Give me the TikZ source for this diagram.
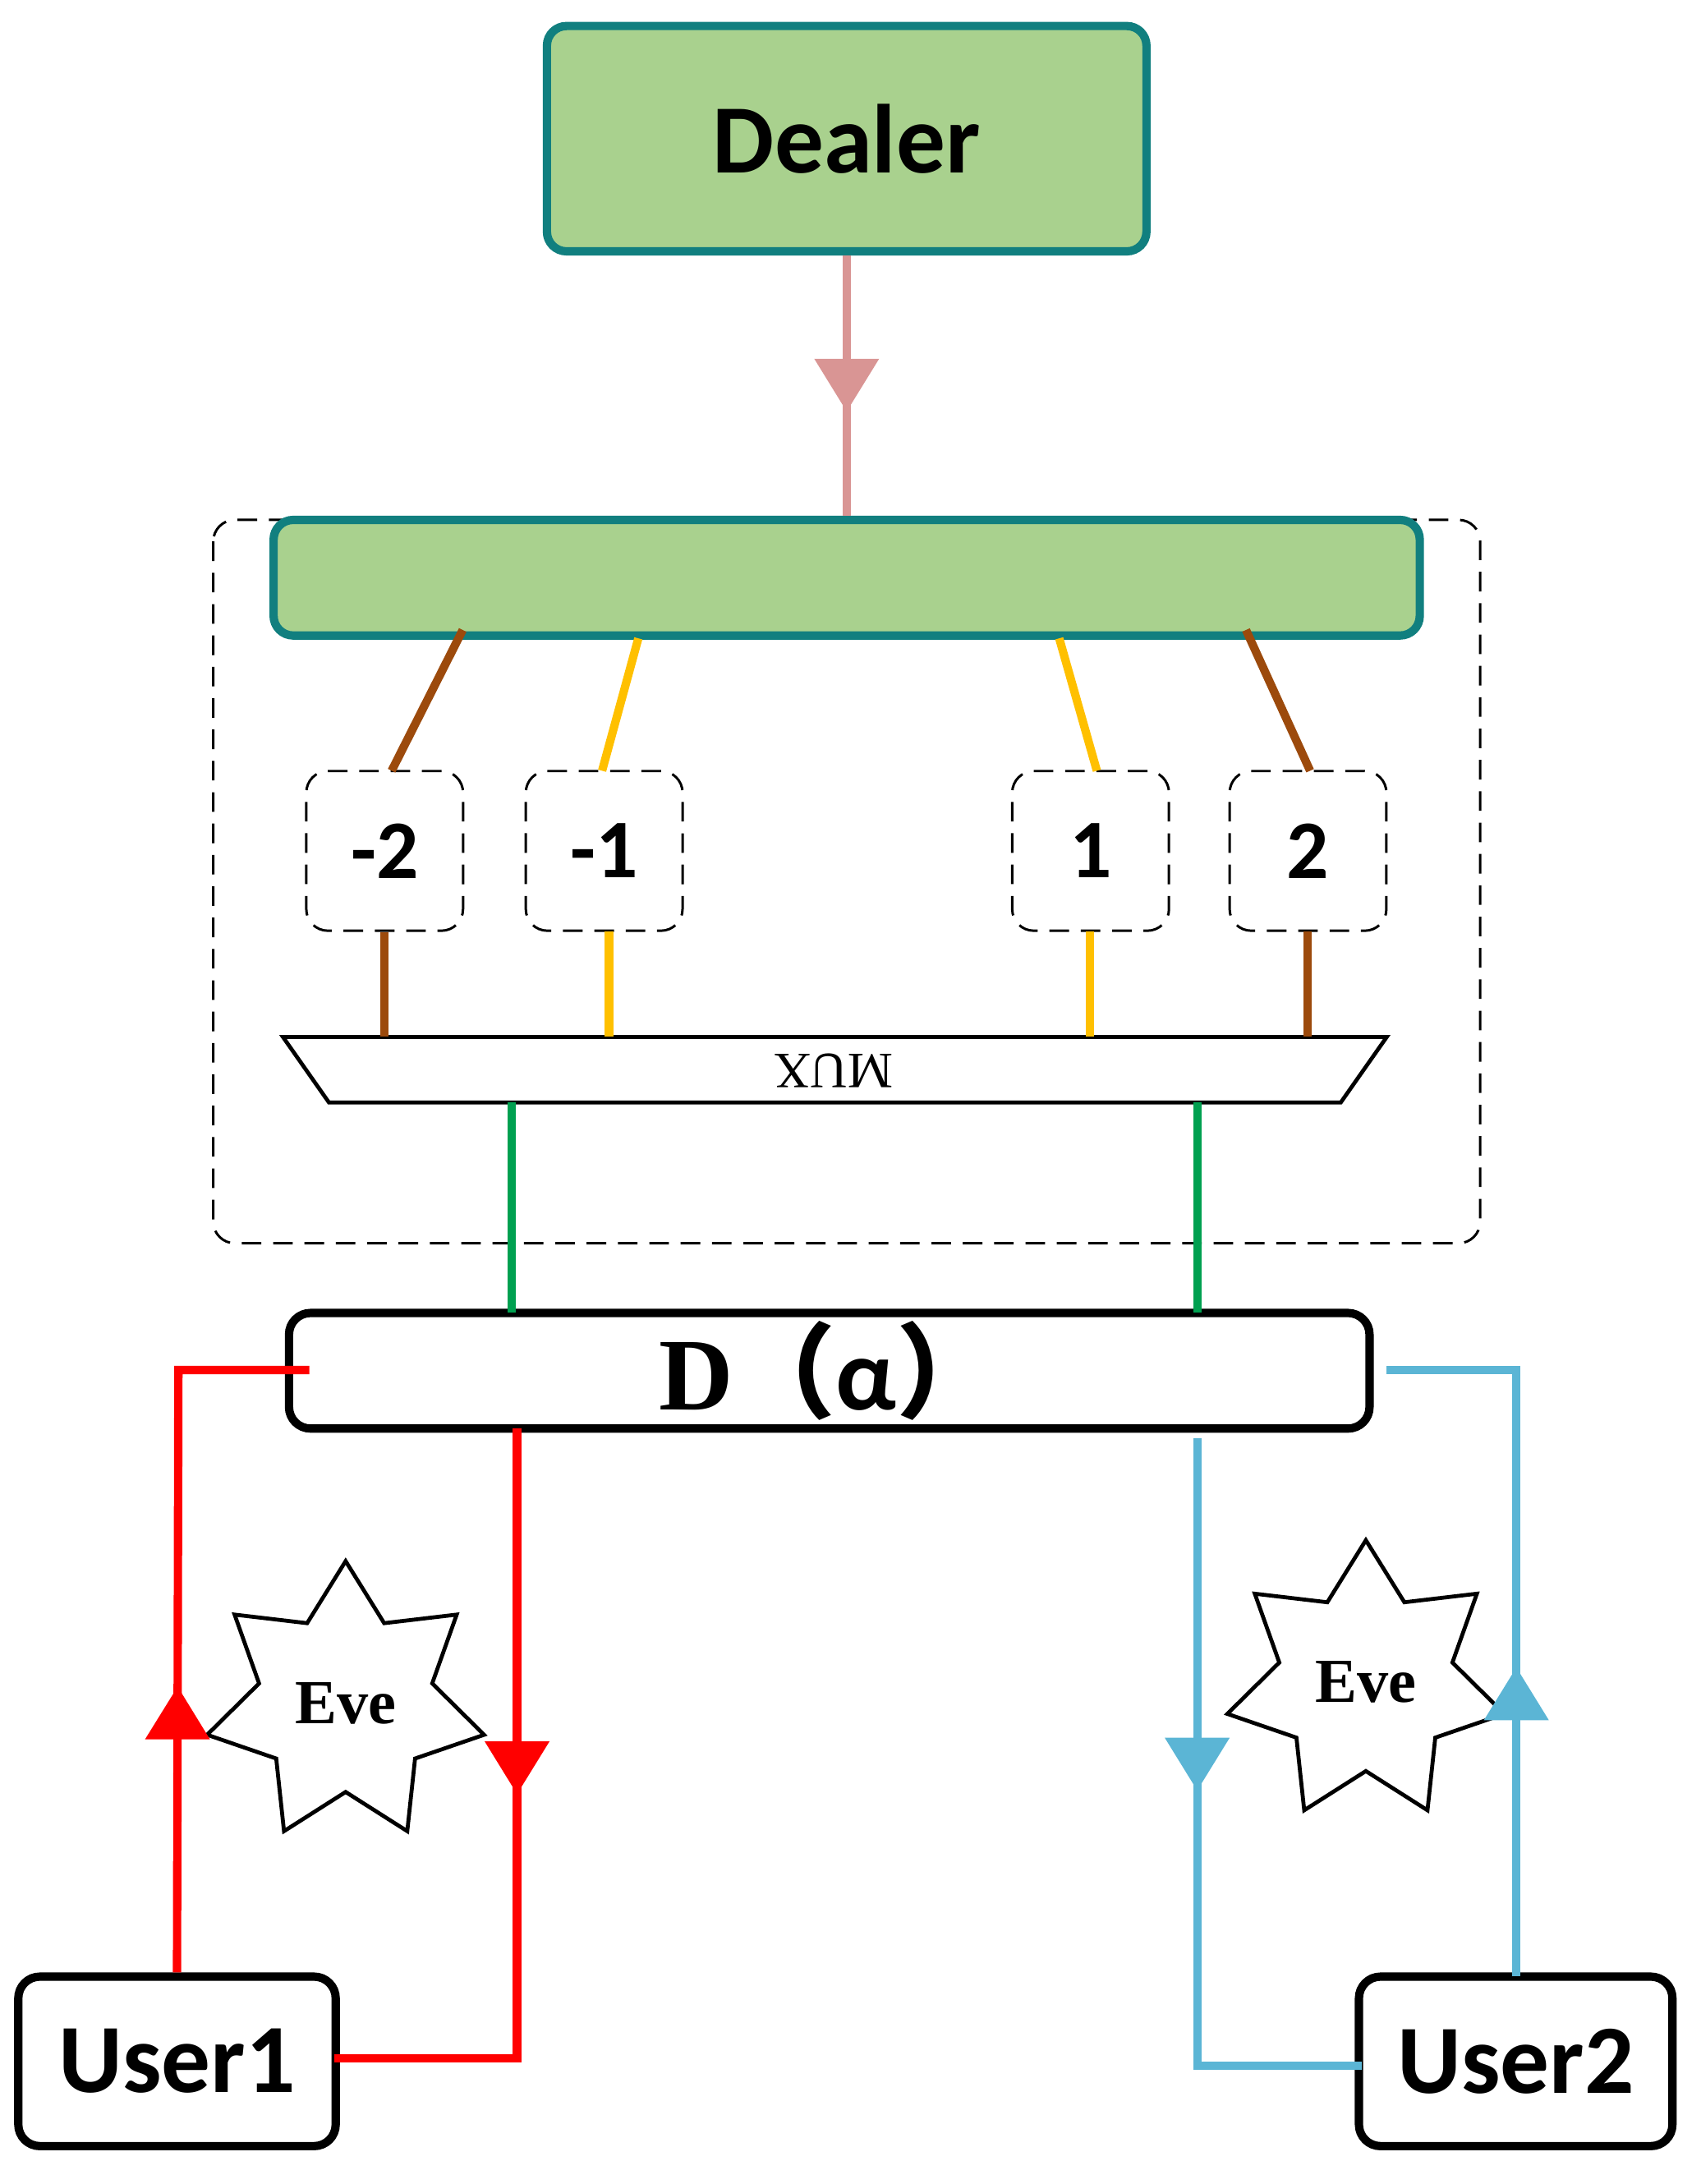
\documentclass[tikz,border=0pt]{standalone}
\usepackage{fontspec}
\setmainfont{Liberation Serif}
\newfontfamily\carl{Carlito}
\newfontfamily\cjk{Noto Sans CJK SC}
\usetikzlibrary{shapes.geometric,arrows.meta,decorations.markings}
\definecolor{gfill}{HTML}{A9D18E}
\definecolor{teal2}{HTML}{117F7F}
\definecolor{pinkc}{HTML}{D99594}
\definecolor{brownc}{HTML}{9C4A0C}
\definecolor{yelc}{HTML}{FFC000}
\definecolor{grc}{HTML}{00A050}
\definecolor{bluec}{HTML}{5BB5D5}
\begin{document}
\begin{tikzpicture}[x=0.05cm,y=-0.05cm,
 dsh/.style={line width=2.5pt,dash pattern=on 20pt off 12pt},
 gbox/.style={draw=teal2,fill=gfill,line width=8.5pt,rounded corners=20pt},
 dbox/.style={draw,dsh,rounded corners=22pt,minimum width=160pt,minimum height=163pt,font=\carl\bfseries\fontsize{85}{90}\selectfont},
 ubox/.style={draw,line width=8.5pt,rounded corners=22pt,font=\carl\bfseries\fontsize{100}{110}\selectfont},
 star/.style={draw,line width=4pt,shape=star,star points=7,star point ratio=1.6,minimum size=290pt,inner sep=0pt,font=\bfseries\fontsize{64}{70}\selectfont},
 arr/.style={postaction={decorate},decoration={markings,mark=at position #1 with {\arrow{Triangle[length=54pt,width=64pt]}}}},
 lw/.style={line width=8.5pt}]
\path[use as bounding box] (0,0) rectangle (1220,1567);
\node[gbox,minimum width=612pt,minimum height=230pt,font=\carl\bfseries\fontsize{100}{110}\selectfont] (dealer) at (607.5,99.5) {Dealer};
\draw[dsh,rounded corners=22pt] (153,373) rectangle (1062,892);
\node[gbox,minimum width=1170pt,minimum height=118pt] (bar) at (607.5,414.5) {};
\draw[pinkc,lw,arr=0.6] (dealer.south) -- (bar.north);
\node[dbox] (m2) at (276,610.5) {-2};
\node[dbox] (m1) at (433.5,610.5) {-1};
\node[dbox] (p1) at (782.5,610.5) {1};
\node[dbox] (p2) at (938.5,610.5) {2};
\coordinate (a1) at (332,452); \coordinate (a2) at (458,458);
\coordinate (a3) at (760,458); \coordinate (a4) at (894,452);
\draw[brownc,lw] (a1) -- (281,553);
\draw[yelc,lw] (a2) -- (432,553);
\draw[yelc,lw] (a3) -- (787,553);
\draw[brownc,lw] (a4) -- (940,553);
\draw[line width=4pt,fill=white] (203,744) -- (995,744) -- (962,791) -- (236,791) -- cycle;
\node[rotate=180,font=\fontsize{52}{55}\selectfont] (mux) at (598,768) {MUX};
\draw[brownc,lw] (m2.south) -- (276,744);
\draw[yelc,lw] (437,668) -- (437,744);
\draw[yelc,lw] (782,668) -- (782,744);
\draw[brownc,lw] (938,668) -- (938,744);
\node[ubox,minimum width=1103pt,minimum height=118pt,font=\bfseries\fontsize{105}{110}\selectfont] (D) at (595,983.5) {D{\cjk（}{\carl α}{\cjk）}};
\draw[grc,lw] (367,791) -- (367,942);
\draw[grc,lw] (859,791) -- (859,942);
\node[ubox,minimum width=324pt,minimum height=173pt] (u1) at (127,1479) {User1};
\node[ubox,minimum width=320pt,minimum height=173pt] (u2) at (1087.5,1479) {User2};
\node[star] (e1) at (248,1222) {Eve};
\node[star] (e2) at (980,1207) {Eve};
\draw[red,lw,arr=0.39] (u1.north) -- (128,983) -- (222,983);
\draw[red,lw,arr=0.45] (371,1025) -- (371,1477) -- (240,1477);
\draw[bluec,lw,arr=0.42] (1088,1418) -- (1088,983) -- (995,983);
\draw[bluec,lw,arr=0.445] (859,1032) -- (859,1482) -- (977,1482);
\end{tikzpicture}
\end{document}
